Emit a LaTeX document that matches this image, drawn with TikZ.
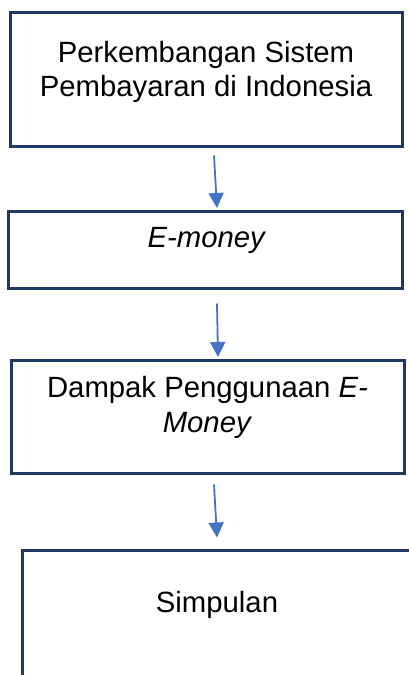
\documentclass[tikz,border=0pt]{standalone}
\usepackage{fontspec}
\setmainfont{Liberation Sans}
\usepackage{tikz}
\usetikzlibrary{arrows.meta,calc,positioning}
\definecolor{navyline}{RGB}{31,56,100}
\definecolor{arrowblue}{RGB}{68,114,196}
\tikzset{
  kotak/.style={
    draw=navyline,
    line width=3pt,
    fill=white,
    inner sep=0pt
  },
  teks/.style={
    align=center,
    inner sep=0pt,
    font=\fontsize{29.3}{34.5}\selectfont
  },
  panah/.style={
    -{Triangle[length=15pt,width=15pt]},
    line width=1.8pt,
    arrowblue
  }
}
\begin{document}
\begin{tikzpicture}[x=1pt,y=1pt]
\useasboundingbox (0,0) rectangle (409,-675);
% kotak-kotak alur
\node[kotak, minimum width=392, minimum height=134] (b1) at (206,-79) {};
\node[kotak, minimum width=394, minimum height=77] (b2) at (205,-249.5) {};
\node[kotak, minimum width=393, minimum height=113] (b3) at (207.5,-416.5) {};
\node[kotak, minimum width=390, minimum height=150] (b4) at (217,-625) {};
% teks
\node[teks] (t1) at ([yshift=7]b1.center) {Perkembangan Sistem\\Pembayaran di Indonesia};
\node[teks] (t2) at ([xshift=2,yshift=9]b2.center) {\textit{E-money}};
\node[teks] (t3) at ([yshift=9]b3.center) {Dampak Penggunaan \textit{E-}\\\textit{Money}};
\node[teks] (t4) at ([yshift=20]b4.center) {Simpulan};
% panah
\draw[panah] ([xshift=8,yshift=-8]b1.south) -- ([xshift=12,yshift=1.5]b2.north);
\draw[panah] ([xshift=12,yshift=-14]b2.south) -- ([xshift=10.5,yshift=1.5]b3.north);
\draw[panah] ([xshift=6.5,yshift=-10]b3.south) -- ([xshift=0,yshift=11]b4.north);
\end{tikzpicture}
\end{document}
